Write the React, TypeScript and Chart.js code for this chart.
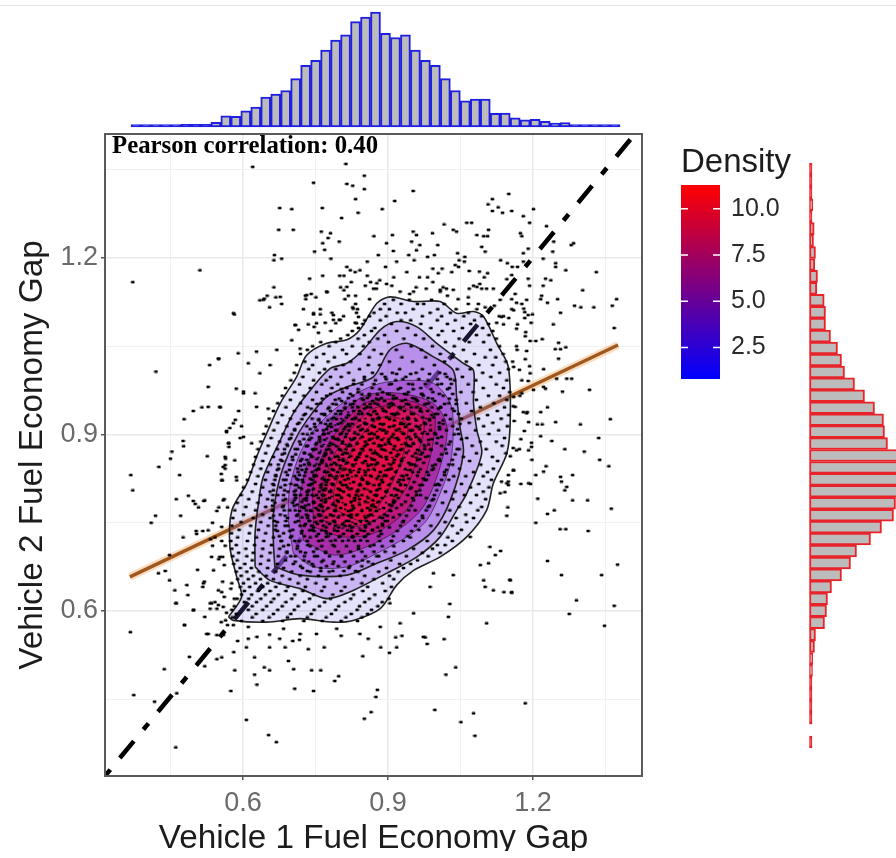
import React, { useEffect, useRef } from "react";
import { Chart, registerables } from "chart.js";

Chart.register(...registerables);

const FONT = "'Liberation Sans', Arial, sans-serif";
const xRange = [0.3145, 1.4256];
const yRange = [0.3195, 1.4108];
const tickLabels = [0.6, 0.9, 1.2];
const minorTicks = [0.45, 0.75, 1.05, 1.35];
const densityTicks = [2.5, 5, 7.5, 10];
const densityRange = [0.8, 11.28];

const topCounts = [4, 1, 4, 4, 4, 8, 8, 8, 14, 34, 32, 49, 60, 90, 99, 110, 146, 186, 201, 232, 262, 278, 318, 332, 347, 283, 270, 278, 232, 201, 186, 146, 110, 79, 84, 84, 41, 42, 28, 22, 23, 17, 12, 13, 7, 3, 3, 3, 3];
const rightCounts = [1, 1, 1, 3.3, 1.3, 4.7, 4, 6, 5.3, 8, 7.3, 14.7, 16, 16, 21, 28, 32, 35, 45, 55, 65, 74, 75, 78, 100, 105, 108, 98, 86, 84, 72, 61, 47, 41, 32, 22, 18, 17, 15, 6, 5, 3.3, 3, 1.3, 1.3, 1.3, 1.3, null, 1.3];

const identityLine = [[0.3145, 0.3195], [1.405, 1.405]];
const regressionLine = [[0.366, 0.658], [1.376, 1.052]];

const contour1 = [[570,590],[580,584],[649,581],[718,587],[787,581],[828,584],[884,604],[918,644],[953,669],[1008,692],[1063,726],[1104,771],[1118,817],[1146,868],[1153,924],[1149,1015],[1125,1055],[1098,1100],[1077,1109],[1042,1106],[1008,1126],[953,1126],[904,1134],[877,1123],[842,1078],[815,1061],[773,1055],[732,1035],[711,998],[677,953],[649,902],[628,862],[608,817],[577,771],[573,709],[587,658],[597,624],[570,590]];
const contour2 = [[625,675],[656,652],[718,638],[773,621],[828,635],[897,664],[960,692],[1008,726],[1042,771],[1063,800],[1094,868],[1084,907],[1077,953],[1077,1009],[1056,1021],[1001,1055],[960,1083],[918,1092],[884,1078],[849,1044],[815,1021],[780,1012],[739,975],[704,936],[677,890],[642,828],[632,783],[625,732],[625,675]];
const contour3 = [[666,675],[718,661],[815,661],[877,681],[939,703],[994,737],[1029,788],[1056,868],[1049,913],[1042,964],[1035,1009],[994,1032],[939,1055],[904,1044],[870,998],[815,981],[773,964],[732,924],[704,885],[677,828],[663,766],[663,715],[666,675]];
const contour4 = [[704,698],[746,675],[815,675],[877,698],[939,726],[980,754],[1008,800],[1029,851],[1035,907],[1029,953],[994,987],[939,992],[884,987],[835,970],[787,941],[746,907],[718,868],[697,811],[694,754],[704,698]];
const contour5 = [[725,720],[787,695],[856,709],[925,740],[973,777],[1008,845],[1022,913],[994,953],[925,970],[856,967],[801,936],[759,896],[732,845],[715,777],[725,720]];
const contour6 = [[746,743],[808,726],[870,732],[932,766],[973,822],[994,890],[994,936],[939,958],[856,955],[808,919],[773,879],[746,817],[746,743]];
const contour7 = [[766,754],[828,743],[884,760],[939,811],[966,879],[973,924],[925,947],[870,944],[822,907],[787,862],[766,811],[766,754]];
const contour8 = [[794,771],[849,754],[897,800],[932,868],[939,919],[891,930],[849,902],[808,845],[787,800],[794,771]];
const contours = [contour1, contour2, contour3, contour4, contour5, contour6, contour7, contour8];
const contourFills = ["rgba(120,110,230,.2)", "rgba(138,79,223,.3)", "rgba(161,84,222,.4)", "rgba(153,45,198,.5)", "rgba(170,25,150,.7)", "rgba(195,20,115,.8)", "rgba(218,22,95,.85)", "rgba(230,13,70,.9)"];

const topLeftDots = [620,1355,813,1360,851,1340,746,1328,815,1326,827,1323,851,1317,833,1300,676,1285,701,1283,764,1285,838,1277,804,1268,674,1248,704,1248,762,1245,781,1242,776,1234,799,1228,765,1225,871,1237,769,1214,748,1211,665,1205,680,1199,664,1196,782,1199,857,1194,511,1179,815,1185,822,1179,832,1176,842,1179,765,1170,800,1170,809,1170,857,1170,738,1165,372,1159,824,1159,864,1159,664,1150,802,1150,853,1153,809,1145,870,1148,774,1142,741,1139,729,1136,751,1133,650,1136,668,1133,818,1136,833,1136,644,1131,635,1128,730,1130,811,1130,862,1130,680,1122,833,1122,655,1116,725,1113,760,1113,827,1116,837,1113,582,1104,746,1104,760,1104,784,1107,808,1101,835,1107,787,1095,799,1095,708,1086,735,1087,747,1083,770,1090,792,1089,715,1078,756,1073,782,1076,832,1090,839,1100];
const topRightDots = [952,1314,914,1297,888,1283,1150,1309,1116,1300,1107,1291,1128,1286,1116,1280,1137,1277,1156,1280,1201,1283,1180,1271,1193,1260,1016,1257,1063,1260,1073,1260,1228,1254,1108,1248,1035,1248,1042,1245,952,1245,992,1242,959,1239,909,1239,1174,1242,1177,1237,1084,1239,1098,1237,1106,1237,949,1228,897,1225,966,1222,1003,1222,1243,1228,1284,1225,1279,1222,1094,1219,959,1213,911,1212,1190,1216,1101,1211,1241,1211,1044,1208,1180,1208,880,1205,943,1205,982,1202,996,1205,1059,1202,1047,1196,1058,1194,1221,1199,1133,1196,954,1196,918,1194,1147,1191,1180,1194,1247,1191,1039,1188,1046,1185,895,1185,1157,1185,1168,1185,1247,1185,993,1182,1012,1182,1268,1179,1331,1176,1068,1178,1089,1177,1106,1174,939,1176,1004,1174,1032,1176,1156,1171,965,1167,982,1167,912,1167,1099,1167,1146,1164,1190,1165,1226,1165,1237,1162,883,1162,993,1159,897,1156,908,1153,1090,1156,1077,1153,1193,1153,1221,1153,958,1150,979,1148,1014,1150,1021,1148,1068,1148,1094,1148,1104,1148,1118,1148,1303,1145,876,1148,1163,1139,1008,1143,1023,1136,945,1139,1218,1136,1066,1133,1216,1130,1251,1130,1373,1130,1156,1130,1166,1124,1230,1124,1045,1130,1066,1122,1087,1122,1120,1119,1177,1122,1286,1119,1299,1116,1326,1116,1364,1119,1101,1116,1156,1113,1181,1114,1183,1108,1257,1107,1130,1101,1139,1101,1150,1098,1190,1103,1199,1104,1183,1098,1125,1090,1139,1087,1196,1090,1242,1087,1168,1087,1166,1080,1368,1081,1185,1074];
const leftDots = [550,1029,590,1038,531,1018,420,1007,528,981,586,978,601,973,515,946,553,946,497,940,591,940,478,926,584,925,597,914,573,911,566,906,594,894,476,889,571,885,477,880,571,879,453,871,526,863,450,859,564,859,583,856,563,848,563,842,426,845,555,833,368,831,469,831,586,828,557,822,372,805,487,796,462,790,497,787,519,787,561,790,501,782,508,776,550,776,546,770,568,776,419,762,471,762,410,750,537,750,503,736,517,736,504,731,476,725,542,725,533,722,556,719,537,711,563,711,448,695,558,692,550,688,561,678,506,670,439,668,425,664,520,650,448,652,484,644,558,650,577,647,517,641,549,635,556,632,575,638,459,635,486,627,561,624,582,621,462,613,535,613,542,615,549,610,559,607,532,604,497,601,566,597,521,590,555,581,564,584,479,576,568,576,580,576,580,1106,642,1129,677,1134,732,1137,773,1143,815,1151,877,1157,708,1086,746,1106,752,1089,787,1103,801,1095,828,1114,835,1089,628,1041,670,1044,549,1029,611,1021,656,1018,718,1046,701,1060,635,1004,601,970,625,970,528,947,552,947,628,947,652,944,580,919,601,896,566,904,618,885,563,862,570,885,559,845,587,822,556,822,521,788,559,788];
const rightDots = [1184,1067,1219,1062,1194,1059,1206,1059,1253,1056,1166,1050,1246,1045,1257,1045,1268,1048,1187,1042,1253,1029,1184,1028,1158,1024,1193,1016,1222,1011,1172,1010,1194,1004,1270,995,1280,995,1249,995,1190,991,1222,981,1226,978,1317,976,1201,976,1261,973,1177,970,1173,966,1159,948,1230,946,1180,938,1188,938,1216,938,1360,926,1161,923,1191,921,1247,921,1209,917,1219,917,1298,917,1182,906,1216,897,1336,894,1175,892,1239,889,1197,886,1197,879,1159,877,1172,875,1266,875,1306,871,1153,863,1198,857,1338,857,1357,846,1227,846,1159,839,1222,837,1149,831,1206,831,1257,828,1282,831,1135,820,1149,820,1175,816,1195,816,1149,814,1259,820,1270,811,1266,805,1142,802,1210,791,1282,788,1313,788,1148,776,1362,774,1244,771,1230,765,1146,762,1206,750,1256,739,1268,739,1314,736,1133,702,1230,685,1375,679,1259,661,1342,661,1152,653,1140,632,1156,632,1290,618,1368,609,1275,595,1348,575,1111,709,1108,681,1091,678,1122,695,1098,652,1153,652,1101,641,1118,635,1156,631,1035,661,994,664,987,641,1028,612,1025,590,973,556,953,596,925,579,904,613,1104,579,1070,726,1132,800,1146,817,1160,839,1191,817,1191,873,1166,873,1163,947,1187,936,1160,964,1177,992,1160,1015,1167,1044,1135,1100,1160,1111,1187,1129,1132,1129,1084,1151,1035,1146,1008,1146,953,1143,925,1143];
const bottomDots = [367,564,461,613,498,602,479,576,528,561,546,559,589,549,611,553,629,556,655,560,676,553,703,549,717,551,607,538,655,538,687,538,735,535,768,538,803,558,859,553,916,555,929,558,977,555,981,544,1016,552,885,538,903,529,918,538,581,530,624,521,556,521,546,518,489,522,694,515,848,523,521,506,437,501,644,504,655,499,583,499,705,501,742,499,761,499,1040,504,624,492,1020,492,798,489,790,481,629,475,707,468,575,464,746,464,878,466,875,454,374,457,463,460,417,446,1184,443,997,432,865,428,1077,426,851,417,607,415,1051,411,653,389,1080,388,669,377,461,368,525,561,559,559,611,573,718,561,794,570,752,561,842,561,684,570,884,573,532,613,546,604,518,647,539,669,552,692,528,737,556,743,535,692];

const fieldRows = [
[1129,911,944,990],
[1122,893,927,961,974,1016],
[1113,884,903,952,1003,1041,1084],
[1107,871,919,936,987,1029,1066],
[1101,862,896,971,1011,1057,1094],
[1094,852,884,927,947,1002,1039,1079],
[1088,848,907,968,1023,1071,1108],
[1081,839,873,941,989,1054,1096],
[1076,826,866,918,1012,1036,1117],
[1069,817,851,893,957,1004,1083,1109],
[1063,802,838,879,933,974,1047,1124],
[1057,761,792,861,901,1019,1068,1098],
[1050,744,778,826,849,948,992,1037,1131],
[1044,733,806,871,917,969,1056,1112],
[1037,719,767,814,842,886,1008,1079,1138],
[1031,752,789,861,929,978,1033,1101,1123],
[1024,728,776,823,903,951,1017,1062,1144],
[1018,711,744,807,859,883,996,1088,1117],
[1011,736,769,792,841,924,971,1043,1070,1149],
[1005,706,758,819,868,909,958,1007,1096,1131],
[998,724,781,803,851,894,937,1022,1054,1113],
[992,699,746,772,829,874,916,983,1038,1082,1146],
[985,717,763,796,846,903,951,1003,1066,1124],
[979,688,739,784,815,867,926,968,1027,1097,1139],
[972,707,752,806,838,889,942,993,1051,1076,1152],
[966,681,726,773,827,861,911,973,1014,1108,1131],
[959,698,744,791,849,881,936,959,1041,1083,1146],
[953,672,719,761,812,873,907,984,1026,1062,1119],
[946,689,734,778,826,856,923,948,1009,1091,1141],
[940,663,706,751,797,841,894,967,1037,1073,1126],
[933,681,726,769,818,864,914,991,1019,1106,1150],
[927,654,698,743,784,833,881,943,1052,1087,1134],
[920,672,716,761,803,852,927,975,1006,1068,1117],
[914,648,691,732,776,821,869,911,958,1034,1098,1147],
[907,664,707,753,794,843,892,946,1021,1081,1129],
[901,643,683,724,768,814,861,933,982,1046,1109],
[894,658,699,741,787,831,878,919,1003,1063,1141],
[888,637,676,717,759,806,853,901,968,1029,1091,1124],
[881,652,692,734,778,823,886,941,1011,1074,1136],
[875,631,671,708,751,799,846,912,989,1043,1103],
[868,647,686,727,771,816,869,957,1021,1083,1144],
[862,626,663,702,743,791,837,896,978,1056,1116],
[855,641,681,719,764,808,853,928,1007,1069,1127],
[849,622,657,696,738,783,874,946,1034,1092],
[842,637,674,713,756,801,907,994,1048,1118],
[836,616,651,689,729,776,839,963,1017,1077,1106],
[829,631,668,707,748,793,881,1036,1061,1097],
[823,609,646,684,723,769,924,979,1026,1114],
[816,626,662,699,741,786,858,1003,1052,1088],
[810,601,641,678,716,761,816,948,1071,1109],
[803,619,656,693,733,779,896,1019,1039,1097],
[797,596,636,672,709,752,967,1058,1083],
[790,612,651,688,726,771,841,994,1034,1102],
[784,588,631,666,703,746,911,1013,1071],
[777,606,647,682,721,764,873,983,1047,1094],
[771,583,626,661,697,739,956,1028,1086],
[764,601,641,677,713,758,824,1003,1061],
[758,579,621,656,692,734,889,972,1041,1077],
[751,596,637,671,708,751,931,1018,1063],
[745,577,616,652,687,727,811,989,1033],
[738,592,632,667,703,744,868,964,1052],
[732,576,613,647,684,721,773,1007,1044],
[725,589,628,663,698,739,827,946,1024],
[719,575,609,643,679,716,908,981,1033],
[712,586,624,659,694,734,786,871,1002,1018],
[706,577,606,641,676,712,753,839,953,992],
[699,591,621,656,691,729,771,913,971,1008],
[693,579,608,638,673,708,748,803,881,938,983],
[686,588,619,653,688,726,766,847,906,961],
[680,581,604,636,671,704,743,786,869,924,947],
[673,594,617,651,684,723,761,819,897,932],
[667,586,608,633,668,701,739,778,838,881,921],
[660,596,621,648,681,718,756,801,852,903],
[654,589,611,636,663,697,733,772,826,871,912],
[647,601,626,651,676,714,751,793,846,889],
[641,594,614,641,668,693,729,768,811,858,907],
[634,603,631,656,689,724,763,803,848,894],
[628,597,618,646,673,707,746,786,829,873],
[621,588,612,637,664,701,738,781,823,861,902],
[615,603,628,658,689,727,769,811,852,888],
[608,582,619,649,681,714,758,798,841,879],
[602,577,611,641,672,706,747,792,836,866],
[595,586,627,663,699,741,783,824,858],
[589,578,619,654,692,733,772,813,846],
[583,597,641,682,726,764,803,837]
];
const midRows = [
[1003,887,918,947,986,1018],
[994,851,896,931,964,1002,1029],
[986,829,871,907,943,977,1011,1031],
[977,803,838,883,921,952,989,1023],
[969,781,822,861,899,934,969,1006,1034],
[961,764,799,846,876,911,956,992,1027],
[952,753,786,828,863,902,938,979,1017,1041],
[944,741,776,811,851,889,926,967,1004,1033],
[935,729,763,802,839,877,914,953,998,1046],
[926,722,757,793,826,868,903,941,986,1029],
[918,713,748,781,818,856,891,932,977,1014,1049],
[909,707,739,773,809,847,883,923,966,1007,1044],
[900,701,733,766,801,838,872,911,956,999,1037],
[892,696,726,759,792,829,863,902,947,991,1052],
[883,691,719,751,786,821,856,894,938,984,1026],
[875,686,713,744,778,813,848,887,929,976,1019,1047],
[866,681,709,738,771,806,841,879,921,968,1011,1039],
[857,678,703,732,764,799,833,872,913,961,1004,1033],
[849,673,699,727,758,793,827,866,906,953,998,1026],
[840,671,696,722,752,787,821,859,899,946,991,1021],
[831,668,692,717,747,781,816,853,893,939,984,1017],
[823,666,689,714,743,776,811,848,887,932,977,1011],
[814,664,687,711,739,772,806,843,882,926,971,1006],
[805,663,686,709,736,768,802,838,877,921,966,1001],
[797,662,684,707,733,764,798,834,873,917,959,996],
[788,661,683,706,731,762,795,831,869,912,953,991],
[779,661,684,706,729,759,792,827,866,908,948,986],
[771,662,685,708,731,757,789,824,863,904,943,979],
[762,663,687,711,734,759,787,821,859,899,938,971],
[753,665,689,714,737,761,789,819,856,894,932,964],
[745,668,693,718,742,766,791,821,853,889,926,957],
[736,671,697,722,747,771,796,824,851,884,919,949],
[727,675,701,727,752,776,801,827,854,881,911,941],
[719,679,707,733,757,782,806,831,857,883,907,932],
[710,684,713,739,763,789,814,839,863,888,912],
[701,691,719,746,771,797,822,846,871,894],
[693,699,727,754,779,804,829,853,877],
[684,708,736,763,788,811,836,859],
[676,719,746,773,797,821,846],
[668,733,761,786,809,833]
];
const coreRows = [
[968,846,878,903,939,971],
[962,818,857,886,917,951,983],
[957,804,831,868,893,929,961,997],
[951,793,822,851,879,911,943,976],
[946,811,838,864,902,926,958,991,1009],
[940,781,803,829,873,891,934,967,982],
[935,769,792,846,859,908,921,949,1003],
[929,788,814,833,881,897,941,972,995],
[924,757,776,807,841,869,913,958,986,1014],
[918,771,797,826,853,884,926,944,977],
[913,749,783,812,838,872,903,936,963,1006],
[907,766,791,819,858,889,917,951,988],
[902,743,777,804,831,866,896,931,971,997],
[896,758,786,812,847,879,908,943,958,1011],
[891,737,769,798,824,861,887,921,966,984],
[885,752,781,806,836,871,903,936,952,1001],
[880,731,763,793,817,852,881,914,947,976],
[874,746,773,801,829,864,892,926,961,989],
[869,727,758,784,811,843,874,906,938,971],
[863,741,768,796,823,856,884,918,951,983],
[858,722,753,779,807,834,867,897,929,966,1006],
[852,736,763,789,816,848,878,911,943,974],
[847,719,748,773,801,828,859,891,924,958,992],
[841,731,757,784,811,841,871,903,936,967],
[836,714,743,769,796,823,853,884,916,951,981],
[830,727,752,779,806,834,864,896,929,961],
[825,711,739,764,791,818,846,877,908,943,973],
[819,724,749,773,801,829,857,889,921,954],
[814,708,736,761,786,813,841,871,902,936,966,998],
[808,721,746,771,797,824,851,883,914,946],
[803,706,733,758,782,808,836,864,896,929,958],
[797,719,743,768,793,819,846,877,907,941],
[792,709,731,756,779,804,831,859,888,921,951,979],
[786,722,746,771,797,824,853,881,913,936],
[781,712,736,761,786,812,841,869,903,928],
[775,726,751,776,802,829,858,891,918],
[770,717,741,766,791,818,846,876,906],
[764,731,756,781,807,836,864,893,924],
[759,722,748,772,797,824,853,883,911],
[753,737,763,788,814,843,871,899],
[748,729,754,779,806,833,861,888],
[742,746,772,798,826,853,879,903],
[737,738,763,789,816,844,868],
[731,756,781,808,836,859,886],
[726,772,799,827,851],
[720,764,791,818,843]
];
const centreRows = [
[948,836,858,884,907,933,962],
[938,818,846,869,897,919,947,971],
[927,803,829,853,876,904,931,956,979],
[916,791,816,843,866,889,914,939,968,988],
[905,783,807,831,854,877,899,926,948,976],
[894,774,797,821,843,869,891,914,937,964],
[883,767,789,812,836,858,881,906,928,953,974],
[872,761,783,804,826,849,873,896,919,943,966],
[861,756,778,798,819,841,864,887,909,934,958],
[850,752,772,793,813,834,857,879,901,926,949],
[839,748,769,788,808,829,851,873,894,918,941],
[828,746,766,786,804,826,846,867,889,911,933],
[817,744,763,783,802,821,842,862,883,904,926],
[806,744,763,782,801,819,838,858,878,899,919],
[795,746,766,784,802,821,839,857,876,894,913],
[784,749,769,787,806,823,841,859,877,896],
[773,754,773,792,811,828,846,864,882],
[762,762,781,799,817,834,851,869],
[751,773,791,809,826,844,861],
[741,788,806,823,841]
];

function pairsToPoints(list: number[]) {
  const out: { x: number; y: number }[] = [];
  for (let i = 0; i < list.length; i += 2) out.push({ x: list[i] / 1000, y: list[i + 1] / 1000 });
  return out;
}
function rowsToPoints(rows: number[][]) {
  return rows.flatMap(([y, ...xs]) => xs.map((x) => ({ x: x / 1000, y: y / 1000 })));
}
const asPoints = (list: number[][], k = 1) => list.map(([x, y]) => ({ x: x / k, y: y / k }));

function dotImage(w: number, h: number) {
  const c = document.createElement("canvas");
  c.width = w + 2;
  c.height = h + 2;
  const g = c.getContext("2d")!;
  g.fillStyle = "rgba(0,0,0,.28)";
  g.fillRect(0, 1, w + 2, h);
  g.fillRect(1, 0, w, h + 2);
  g.fillStyle = "#000";
  g.fillRect(1, 1, w, h);
  return c;
}

function useChart(make: (c: HTMLCanvasElement) => Chart) {
  const ref = useRef<HTMLCanvasElement>(null);
  useEffect(() => {
    const chart = make(ref.current!);
    return () => chart.destroy();
  }, []);
  return ref;
}

function axisOptions(range: number[], titleText: string, isX: boolean) {
  const all = [...minorTicks, ...tickLabels].sort((a, b) => a - b);
  const major = (v: number) => tickLabels.includes(v);
  return {
    type: "linear",
    min: range[0],
    max: range[1],
    afterBuildTicks: (s: any) => { s.ticks = all.map((value) => ({ value })); },
    afterFit: (s: any) => {
      if (isX) s.height = 75; else s.width = 105;
      s.paddingTop = 0; s.paddingBottom = 0; s.paddingLeft = 0; s.paddingRight = 0;
    },
    border: { display: false },
    grid: {
      color: (c: any) => (major(c.tick?.value) ? "#e9e9e9" : "#f1f1f1"),
      lineWidth: (c: any) => (major(c.tick?.value) ? 1.5 : 1),
      tickColor: (c: any) => (major(c.tick?.value) ? "#555" : "rgba(0,0,0,0)"),
      tickLength: 4,
    },
    ticks: {
      autoSkip: false,
      maxRotation: 0,
      padding: isX ? 7 : 3,
      color: "#6a6a6a",
      font: { family: FONT, size: 27 },
      callback: (v: number) => (major(v) ? v.toFixed(1) : ""),
    },
    title: {
      display: true,
      text: titleText,
      color: "#1c1c1c",
      font: { family: FONT, size: 33.3 },
      padding: isX ? { top: 0, bottom: -8 } : { top: 12.5, bottom: 0 },
    },
  };
}

const panelPlugin = {
  id: "panel",
  afterDraw(chart: any) {
    const { ctx, chartArea: a } = chart;
    ctx.save();
    ctx.strokeStyle = "#5a5a5a";
    ctx.lineWidth = 2;
    ctx.strokeRect(a.left, a.top, a.right - a.left, a.bottom - a.top);
    ctx.fillStyle = "#000";
    ctx.font = "bold 24.8px 'Liberation Serif', serif";
    ctx.textBaseline = "middle";
    ctx.fillText("Pearson correlation: 0.40", a.left + 7, a.top + 13);
    ctx.restore();
  },
};

function makeMain(canvas: HTMLCanvasElement) {
  const wide = dotImage(3, 2);
  const small = dotImage(2, 1);
  const dot = (data: any[], image: HTMLCanvasElement, order: number) => ({
    data, order, showLine: false, pointStyle: image, pointRadius: 2,
    pointBorderWidth: 0,
  });
  const line = (data: any[], color: string, width: number, order: number, dash: number[] = [], offset = 0) => ({
    data, order, showLine: true, pointRadius: 0, borderColor: color, borderWidth: width,
    borderDash: dash, borderDashOffset: offset, fill: false, tension: 0,
  });
  const polys = contours.map((c, i) => ({
    data: asPoints(c, 1000), order: 20 - i, showLine: true, pointRadius: 0,
    borderColor: i < 3 ? "#222" : "rgba(25,15,30,.6)", borderWidth: i < 3 ? 1.6 : 1,
    backgroundColor: contourFills[i], fill: "shape", tension: 0.3,
  }));
  return new Chart(canvas, {
    type: "scatter",
    data: {
      datasets: [
        dot(pairsToPoints(topLeftDots), wide, 1),
        dot(pairsToPoints(topRightDots), wide, 1),
        dot(pairsToPoints(leftDots), wide, 1),
        dot(pairsToPoints(rightDots), wide, 1),
        dot(pairsToPoints(bottomDots), wide, 1),
        dot(rowsToPoints(fieldRows), wide, 1),
        dot(rowsToPoints(midRows), wide, 1),
        dot(rowsToPoints(coreRows), wide, 1),
        dot(rowsToPoints(centreRows), small, 1),
        ...polys,
        line(asPoints(regressionLine), "rgba(240,170,100,.4)", 8, 29),
        line(asPoints(regressionLine), "#a0581f", 3.4, 28),
        line(asPoints(identityLine), "#000", 4.5, 30, [22, 15, 8, 15], 36.7),
      ] as any,
    },
    options: {
      animation: false,
      responsive: false,
      devicePixelRatio: 1,
      layout: { padding: { top: 4, right: 18, left: 0, bottom: 0 } },
      plugins: { legend: { display: false }, tooltip: { enabled: false } },
      scales: {
        x: axisOptions(xRange, "Vehicle 1 Fuel Economy Gap", true),
        y: axisOptions(yRange, "Vehicle 2 Fuel Economy Gap", false),
      } as any,
    },
    plugins: [panelPlugin],
  });
}

function histogram(canvas: HTMLCanvasElement, values: (number | null)[], horizontal: boolean, stroke: string, padding: any, max: number, minLen: number, tiny: number) {
  const axis = { display: false, min: 0, max };
  const cat = { display: false, offset: true, grid: { offset: true } };
  return new Chart(canvas, {
    type: "bar",
    data: {
      labels: values.map((_, i) => String(i + 1)),
      datasets: [{
        data: values,
        backgroundColor: (c: any) => ((c.raw ?? 0) < tiny ? stroke : "#bcbcbc"),
        borderColor: stroke, borderWidth: 2,
        borderSkipped: false, barPercentage: 1, categoryPercentage: 1, clip: false, minBarLength: minLen,
      } as any],
    },
    options: {
      animation: false,
      responsive: false,
      devicePixelRatio: 1,
      indexAxis: horizontal ? "y" : "x",
      layout: { padding },
      plugins: { legend: { display: false }, tooltip: { enabled: false } },
      scales: horizontal ? { x: axis, y: cat } : { x: cat, y: axis },
    } as any,
  });
}

const colorbarPlugin = {
  id: "barTicks",
  afterDatasetsDraw(chart: any) {
    const { ctx, chartArea: a, scales } = chart;
    ctx.save();
    ctx.strokeStyle = "#ffffff";
    ctx.lineWidth = 1.5;
    densityTicks.forEach((v) => {
      const y = scales.y.getPixelForValue(v);
      ctx.beginPath();
      ctx.moveTo(a.left, y); ctx.lineTo(a.left + 7, y);
      ctx.moveTo(a.right - 7, y); ctx.lineTo(a.right, y);
      ctx.stroke();
    });
    ctx.restore();
  },
};

function makeColorbar(canvas: HTMLCanvasElement) {
  return new Chart(canvas, {
    type: "bar",
    data: {
      labels: ["Density"],
      datasets: [{
        data: [densityRange],
        barPercentage: 1,
        categoryPercentage: 1,
        borderWidth: 0,
        backgroundColor: (c: any) => {
          const a = c.chart.chartArea;
          if (!a) return "#800080";
          const g = c.chart.ctx.createLinearGradient(0, a.bottom, 0, a.top);
          g.addColorStop(0, "#0000ff");
          g.addColorStop(1, "#ff0000");
          return g;
        },
      } as any],
    },
    options: {
      animation: false,
      responsive: false,
      devicePixelRatio: 1,
      layout: { padding: 0 },
      plugins: {
        legend: { display: false },
        tooltip: { enabled: false },
        title: {
          display: true, text: "Density", align: "start", color: "#1c1c1c",
          font: { family: FONT, size: 33, weight: "normal" },
          padding: { top: 3.2, bottom: 2.2 },
        },
      },
      scales: {
        x: { display: false },
        y: {
          position: "right",
          min: densityRange[0],
          max: densityRange[1],
          afterBuildTicks: (s: any) => { s.ticks = densityTicks.map((value) => ({ value })); },
          afterFit: (s: any) => { s.width = 78; s.paddingTop = 0; s.paddingBottom = 0; },
          border: { display: false },
          grid: { display: false },
          ticks: {
            padding: 3, color: "#2a2a2a",
            font: { family: FONT, size: 25 },
            callback: (v: number) => v.toFixed(1),
          },
        },
      },
    } as any,
    plugins: [colorbarPlugin],
  });
}

const box = (left: number, top: number): React.CSSProperties => ({ position: "absolute", left, top, display: "block" });

export default function App() {
  const mainRef = useChart(makeMain);
  const topRef = useChart((c) => histogram(c, topCounts, false, "#1f1fe0", { left: 5, right: 1, top: 4, bottom: 3 }, 347, 2.5, 9));
  const rightRef = useChart((c) => histogram(c, rightCounts, true, "#e8232a", { left: 9.5, right: 0, top: 5, bottom: 6 }, 86.5, 2.5, 2));
  const barRef = useChart(makeColorbar);
  return (
    <div style={{ position: "fixed", left: 0, top: 0, width: 896, height: 858, background: "#fff", overflow: "hidden" }}>
      <div style={{ position: "absolute", left: 0, top: 5, width: 896, height: 1, background: "#e3e3e3" }} />
      <canvas ref={topRef} width={495} height={122} style={box(126, 8)} />
      <canvas ref={mainRef} width={660} height={721} style={box(0, 130)} />
      <canvas ref={barRef} width={117} height={239} style={box(681, 140)} />
      <canvas ref={rightRef} width={96} height={596} style={box(800, 158)} />
    </div>
  );
}
